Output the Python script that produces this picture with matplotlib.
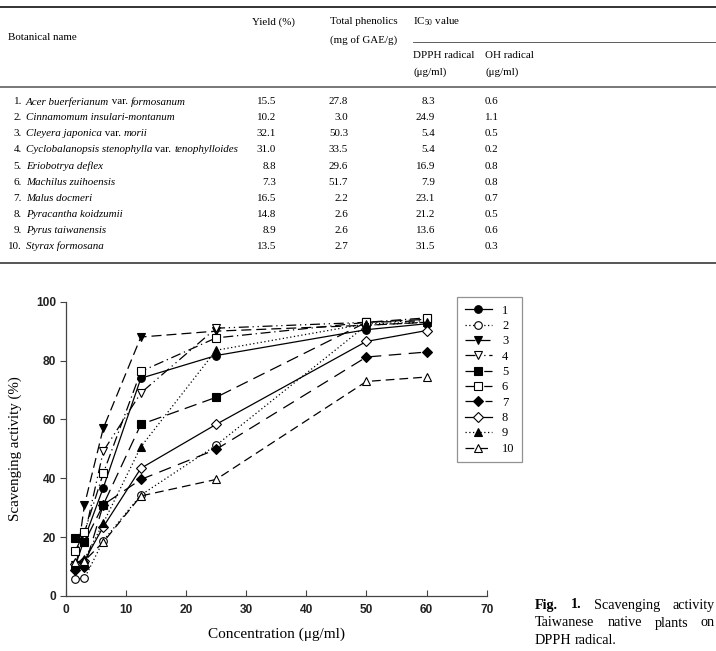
import matplotlib
matplotlib.use("Agg")
import matplotlib.pyplot as plt

# ---------------- data ----------------
row_nums = ["1.", "2.", "3.", "4.", "5.", "6.", "7.", "8.", "9.", "10."]
# name parts: (text, italic?)
names = [
    [("Acer buerferianum", True), (" var. ", False), ("formosanum", True)],
    [("Cinnamomum insulari-montanum", True)],
    [("Cleyera japonica", True), (" var. ", False), ("morii", True)],
    [("Cyclobalanopsis stenophylla", True), (" var. ", False), ("tenophylloides", True)],
    [("Eriobotrya deflex", True)],
    [("Machilus zuihoensis", True)],
    [("Malus docmeri", True)],
    [("Pyracantha koidzumii", True)],
    [("Pyrus taiwanensis", True)],
    [("Styrax formosana", True)],
]
yields = ["15.5", "10.2", "32.1", "31.0", "8.8", "7.3", "16.5", "14.8", "8.9", "13.5"]
phenolics = ["27.8", "3.0", "50.3", "33.5", "29.6", "51.7", "2.2", "2.6", "2.6", "2.7"]
dpph_ic50 = ["8.3", "24.9", "5.4", "5.4", "16.9", "7.9", "23.1", "21.2", "13.6", "31.5"]
oh_ic50 = ["0.6", "1.1", "0.5", "0.2", "0.8", "0.8", "0.7", "0.5", "0.6", "0.3"]

conc = [1.5625, 3.125, 6.25, 12.5, 25, 50, 60]
s1 = [10.0, 19.5, 36.8, 74.0, 81.7, 90.5, 92.5]
s2 = [5.8, 6.0, 18.8, 34.3, 51.2, 92.0, 93.0]
s3 = [8.5, 31.0, 57.0, 88.0, 90.0, 92.0, 93.0]
s4 = [10.5, 20.5, 49.2, 69.0, 91.0, 93.0, 93.5]
s5 = [19.8, 18.3, 31.0, 58.3, 67.5, 93.0, 94.0]
s6 = [15.2, 21.7, 41.7, 76.3, 87.7, 93.0, 94.5]
s7 = [9.0, 9.8, 31.0, 39.6, 49.8, 81.2, 82.9]
s8 = [10.8, 12.0, 23.5, 43.4, 58.3, 86.5, 90.2]
s9 = [11.0, 12.5, 24.8, 50.7, 83.5, 92.5, 93.0]
s10 = [11.5, 12.0, 18.3, 34.0, 39.6, 72.9, 74.4]
series = [s1, s2, s3, s4, s5, s6, s7, s8, s9, s10]
labels = ["1", "2", "3", "4", "5", "6", "7", "8", "9", "10"]

# ---------------- figure ----------------
W, H = 716, 651
plt.rcParams['mathtext.fontset'] = 'custom'
plt.rcParams['mathtext.rm'] = 'Liberation Serif'
plt.rcParams['mathtext.it'] = 'Liberation Serif:italic'
fig = plt.figure(figsize=(W / 100, H / 100), dpi=100)
renderer = fig.canvas.get_renderer()

SERIF = "Liberation Serif"
FS = 7.9


def fx(x):
    return x / W


def fy(y):
    return 1 - y / H


def ptext(x, y, s, ha="left", va="center", **kw):
    kw.setdefault("family", SERIF)
    kw.setdefault("fontsize", FS)
    return fig.text(fx(x), fy(y), s, ha=ha, va=va, **kw)


def hline(y, x0, x1, lw=1.0, color="black"):
    fig.add_artist(plt.Line2D([fx(x0), fx(x1)], [fy(y), fy(y)],
                              transform=fig.transFigure, lw=lw, color=color))


# table rules
hline(7, 0, W, lw=1.4, color="#333333")
hline(86.7, 0, W, lw=1.4, color="#777777")
hline(263, 0, W, lw=1.4, color="#555555")
hline(42, 413, W, lw=0.6, color="#444444")

# headers
ptext(8, 37, "Botanical name")
ptext(252, 22, "Yield (%)")
ptext(330, 22, "Total phenolics")
ptext(330, 40, "(mg of GAE/g)")
ptext(413, 22, r"IC$_{50}$ value")
ptext(413, 55, "DPPH radical")
ptext(413, 72, "(μg/ml)")
ptext(485, 55, "OH radical")
ptext(485, 72, "(μg/ml)")

# rows
row_y0, row_dy = 101.7, 16.1
for i in range(10):
    y = row_y0 + i * row_dy
    ptext(22, y, row_nums[i], ha="right")
    x = 26
    for part, ital in names[i]:
        t = ptext(x, y, part, style="italic" if ital else "normal")
        x += t.get_window_extent(renderer).width
    ptext(276, y, yields[i], ha="right")
    ptext(348, y, phenolics[i], ha="right")
    ptext(435, y, dpph_ic50[i], ha="right")
    ptext(485, y, oh_ic50[i], ha="left")

# ---------------- chart ----------------
ax = fig.add_axes([fx(65.7), fy(596), fx(486.7) - fx(65.7), fy(301.7) - fy(596)])

styles = [
    dict(marker="o", mfc="black", ls="-"),
    dict(marker="o", mfc="white", ls=(0, (1, 2))),
    dict(marker="v", mfc="black", ls=(0, (8, 4))),
    dict(marker="v", mfc="white", ls=(0, (8, 3, 1, 3, 1, 3))),
    dict(marker="s", mfc="black", ls=(0, (10, 5))),
    dict(marker="s", mfc="white", ls=(0, (8, 3, 1, 3))),
    dict(marker="D", mfc="black", ls=(0, (10, 6))),
    dict(marker="D", mfc="white", ls="-"),
    dict(marker="^", mfc="black", ls=(0, (1, 2))),
    dict(marker="^", mfc="white", ls=(0, (7, 4))),
]
for i, (vals, st) in enumerate(zip(series, styles)):
    ms = 5.5 if st["marker"] != "D" else 4.8
    ax.plot(conc, vals, color="black", lw=0.9, marker=st["marker"],
            mfc=st["mfc"], mec="black", mew=0.8, ms=ms, ls=st["ls"],
            label=labels[i], clip_on=False)

ax.set_xlim(0, 70)
ax.set_ylim(0, 100)
ax.set_xticks(range(0, 71, 10))
ax.set_yticks(range(0, 101, 20))
for sp in ["top", "right"]:
    ax.spines[sp].set_visible(False)
for sp in ["left", "bottom"]:
    ax.spines[sp].set_color("#444444")
    ax.spines[sp].set_linewidth(0.9)
ax.tick_params(axis="x", direction="in", length=4, color="#444444", pad=6)
ax.tick_params(axis="y", direction="out", length=4, color="#444444", pad=3)
for lab in ax.get_xticklabels() + ax.get_yticklabels():
    lab.set_family("Liberation Sans")
    lab.set_fontweight("bold")
    lab.set_fontsize(8.6)
    lab.set_color("#222222")

ax.set_xlabel("Concentration (μg/ml)", family=SERIF, fontsize=11, labelpad=8)
ax.set_ylabel("Scavenging activity (%)", family=SERIF, fontsize=10.8, labelpad=10)

leg = fig.legend(loc="upper left", bbox_to_anchor=(fx(457), fy(297)),
                 prop={"family": SERIF, "size": 9}, frameon=True, fancybox=False,
                 edgecolor="#777777", handlelength=2.2, handletextpad=0.8,
                 labelspacing=0.27, borderpad=0.6, borderaxespad=0)
leg.get_frame().set_linewidth(0.9)

# ---------------- caption (justified) ----------------
cap_lines = [
    ([("Fig.", "bold"), ("1.", "bold"), ("Scavenging", "normal"), ("activity", "normal")], True),
    ([("Taiwanese", "normal"), ("native", "normal"), ("plants", "normal"), ("on", "normal")], True),
    ([("DPPH", "normal"), ("radical.", "normal")], False),
]
cx0, cx1 = 535, 715
cap_y = [605, 623, 641]
for (words, just), y in zip(cap_lines, cap_y):
    texts = [ptext(0, y, w, fontweight=wt, fontsize=10.2) for w, wt in words]
    widths = [t.get_window_extent(renderer).width for t in texts]
    if just and len(words) > 1:
        gap = (cx1 - cx0 - sum(widths)) / (len(words) - 1)
    else:
        gap = 3.0
    x = cx0
    for t, w in zip(texts, widths):
        t.set_x(fx(x))
        x += w + gap

fig.savefig("out.png", dpi=100)
